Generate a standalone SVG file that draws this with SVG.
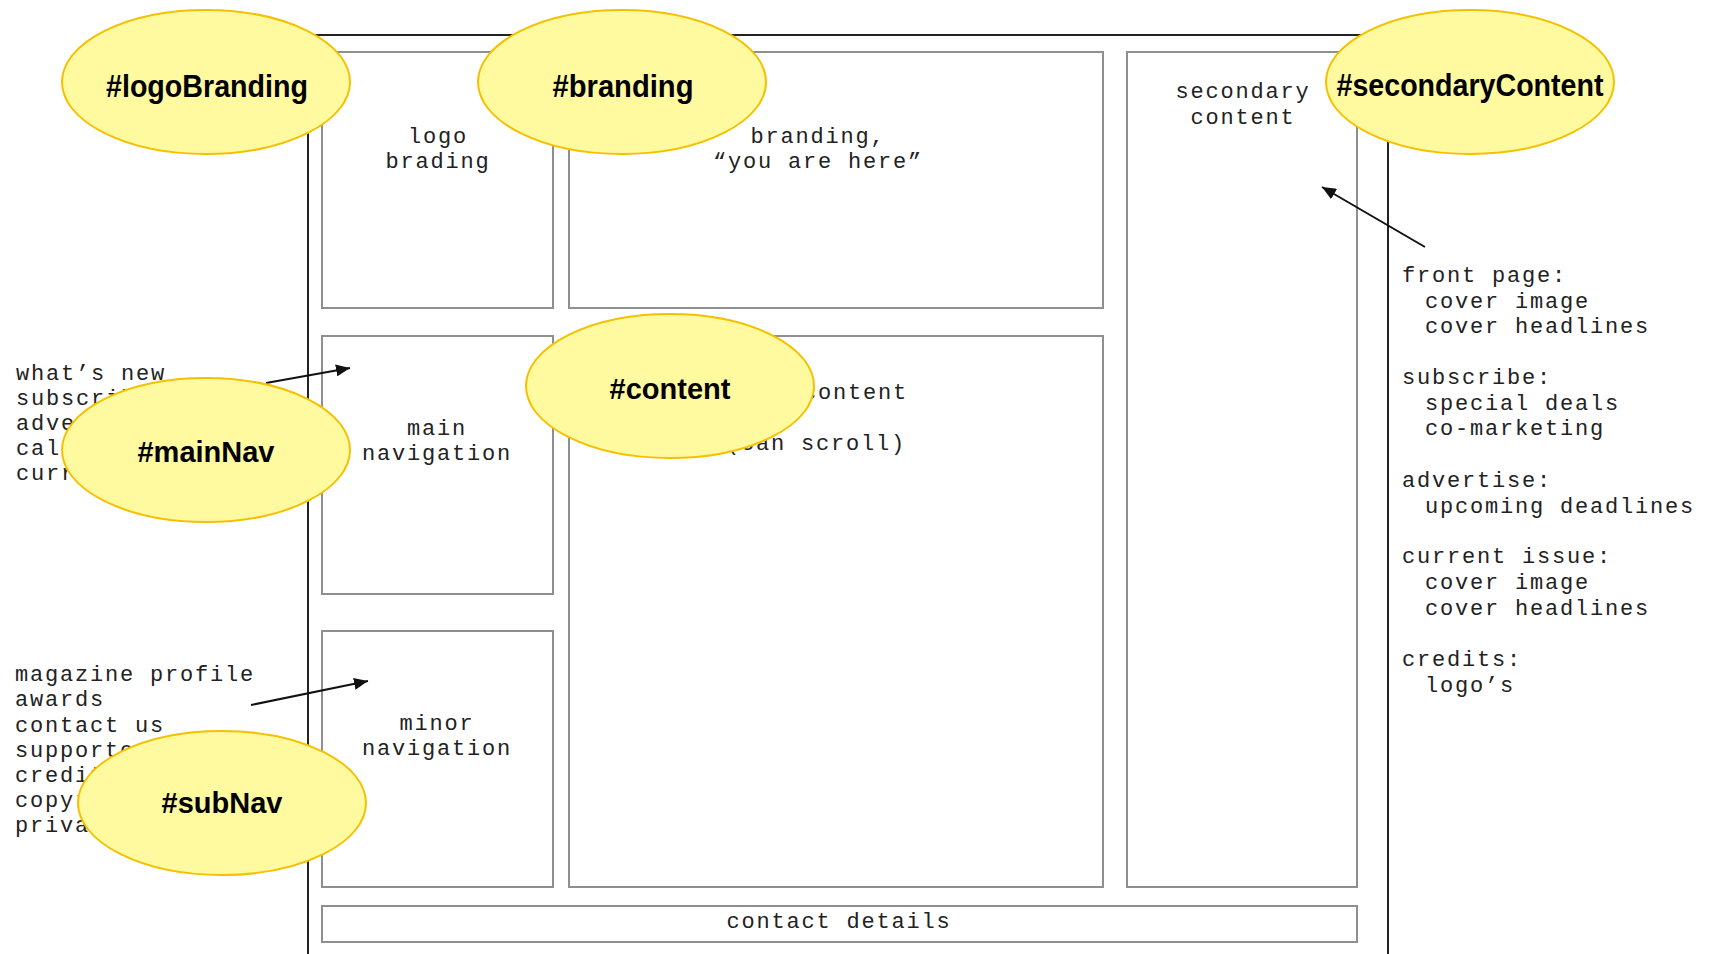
<svg xmlns="http://www.w3.org/2000/svg" width="1715" height="954" viewBox="0 0 1715 954">
<style>
.frame{fill:none;stroke:#222;stroke-width:2}
.box{fill:#fff;stroke:#8f8f8f;stroke-width:2}
.mono{font-family:"Liberation Mono","DejaVu Sans Mono",monospace;font-size:22px;letter-spacing:1.8px;fill:#222}
.mid{text-anchor:middle}
.bubble{fill:#fffa9f;stroke:#f5c000;stroke-width:2}
.lbl{font-family:"Liberation Sans",Arial,sans-serif;font-weight:bold;fill:#000;text-anchor:middle}
.big{font-size:32px}
.small{font-size:29px}
.arrow{stroke:#111;stroke-width:2;fill:none;marker-end:url(#ah)}
</style>
<defs>
<marker id="ah" markerUnits="userSpaceOnUse" markerWidth="16" markerHeight="12" refX="14" refY="6" orient="auto">
<path d="M0,0 L14,6 L0,12 Z" fill="#111"/>
</marker>
</defs>
<rect width="1715" height="954" fill="#fff"/>

<path class="frame" d="M308,960 L308,35 L1388,35 L1388,960"/>

<g id="logoBox">
<rect class="box" x="322" y="52" width="231" height="256"/>
<text class="mono mid" x="438" y="143">logo</text>
<text class="mono mid" x="438" y="168">brading</text>
</g>
<g id="brandingBox">
<rect class="box" x="569" y="52" width="534" height="256"/>
<text class="mono mid" x="818" y="143">branding,</text>
<text class="mono mid" x="818" y="168">“you are here”</text>
</g>
<g id="secondaryBox">
<rect class="box" x="1127" y="52" width="230" height="835"/>
<text class="mono mid" x="1243" y="98">secondary</text>
<text class="mono mid" x="1243" y="124">content</text>
</g>
<g id="mainNavBox">
<rect class="box" x="322" y="336" width="231" height="258"/>
<text class="mono mid" x="437" y="435">main</text>
<text class="mono mid" x="437" y="460">navigation</text>
</g>
<g id="contentBox">
<rect class="box" x="569" y="336" width="534" height="551"/>
<text class="mono mid" x="818" y="399">main content</text>
<text class="mono mid" x="816" y="450">(can scroll)</text>
</g>
<g id="minorNavBox">
<rect class="box" x="322" y="631" width="231" height="256"/>
<text class="mono mid" x="437" y="730">minor</text>
<text class="mono mid" x="437" y="755">navigation</text>
</g>
<g id="contactBox">
<rect class="box" x="322" y="906" width="1035" height="36"/>
<text class="mono mid" x="839" y="928">contact details</text>
</g>

<g id="mainNavList">
<text class="mono" x="16" y="380">what’s new</text>
<text class="mono" x="16" y="405">subscribe</text>
<text class="mono" x="16" y="430">advertise</text>
<text class="mono" x="16" y="455">calendar</text>
<text class="mono" x="16" y="480">current issue</text>
</g>
<g id="subNavList">
<text class="mono" x="15" y="681">magazine profile</text>
<text class="mono" x="15" y="706">awards</text>
<text class="mono" x="15" y="732">contact us</text>
<text class="mono" x="15" y="757">supporters</text>
<text class="mono" x="15" y="782">credits</text>
<text class="mono" x="15" y="807">copyright</text>
<text class="mono" x="15" y="832">privacy</text>
</g>
<g id="secondaryList">
<text class="mono" x="1402" y="282">front page:</text>
<text class="mono" x="1425" y="308">cover image</text>
<text class="mono" x="1425" y="333">cover headlines</text>
<text class="mono" x="1402" y="384">subscribe:</text>
<text class="mono" x="1425" y="410">special deals</text>
<text class="mono" x="1425" y="435">co-marketing</text>
<text class="mono" x="1402" y="487">advertise:</text>
<text class="mono" x="1425" y="513">upcoming deadlines</text>
<text class="mono" x="1402" y="563">current issue:</text>
<text class="mono" x="1425" y="589">cover image</text>
<text class="mono" x="1425" y="615">cover headlines</text>
<text class="mono" x="1402" y="666">credits:</text>
<text class="mono" x="1425" y="692">logo’s</text>
</g>

<g id="connectors">
<line class="arrow" x1="266" y1="383" x2="350" y2="368"/>
<line class="arrow" x1="251" y1="705" x2="368" y2="681"/>
<line class="arrow" x1="1425" y1="247" x2="1322" y2="187"/>
</g>

<g id="logoBranding">
<ellipse class="bubble" cx="206" cy="82" rx="144" ry="72"/>
<text class="lbl big" x="207" y="97" textLength="202" lengthAdjust="spacingAndGlyphs">#logoBranding</text>
</g>
<g id="branding">
<ellipse class="bubble" cx="622" cy="82" rx="144" ry="72"/>
<text class="lbl big" x="623" y="97" textLength="141" lengthAdjust="spacingAndGlyphs">#branding</text>
</g>
<g id="secondaryContent">
<ellipse class="bubble" cx="1470" cy="82" rx="144" ry="72"/>
<text class="lbl big" x="1470" y="96" textLength="267" lengthAdjust="spacingAndGlyphs">#secondaryContent</text>
</g>
<g id="mainNav">
<ellipse class="bubble" cx="206" cy="450" rx="144" ry="72"/>
<text class="lbl small" x="206" y="462">#mainNav</text>
</g>
<g id="content">
<ellipse class="bubble" cx="670" cy="386" rx="144" ry="72"/>
<text class="lbl small" x="670" y="399">#content</text>
</g>
<g id="subNav">
<ellipse class="bubble" cx="222" cy="803" rx="144" ry="72"/>
<text class="lbl small" x="222" y="813">#subNav</text>
</g>
</svg>
